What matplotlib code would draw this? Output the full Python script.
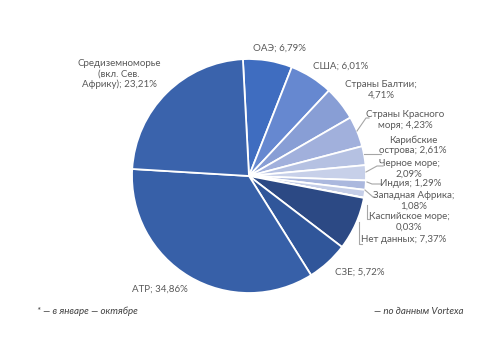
import matplotlib
matplotlib.use("Agg")
import matplotlib.pyplot as plt

categories = ["ОАЭ", "США", "Страны Балтии", "Страны Красного моря", "Карибские острова",
              "Черное море", "Индия", "Западная Африка", "Каспийское море", "Нет данных",
              "СЗЕ", "АТР", "Средиземноморье (вкл. Сев. Африку)"]
values = [6.79, 6.01, 4.71, 4.23, 2.61, 2.09, 1.29, 1.08, 0.03, 7.37, 5.72, 34.86, 23.21]
label_texts = ["ОАЭ; 6,79%", "США; 6,01%", "Страны Балтии;\n4,71%", "Страны Красного\nморя; 4,23%",
               "Карибские\nострова; 2,61%", "Черное море;\n2,09%", "Индия; 1,29%",
               "Западная Африка;\n1,08%", "Каспийское море;\n0,03%", "Нет данных; 7,37%",
               "СЗЕ; 5,72%", "АТР; 34,86%", "Средиземноморье\n(вкл. Сев.\nАфрику); 23,21%"]
colors = ["#3F6DC0", "#6688D0", "#889ED5", "#A1B0DC", "#B5C1E2", "#C7D0E9", "#ABB8DE",
          "#C5CEE8", "#9FB0DC", "#2C4984", "#30569A", "#3760A8", "#3A63AC"]

W, H = 500, 353
CX, CY, R = 249, 176, 117

fig = plt.figure(figsize=(W / 100, H / 100), dpi=100)
ax = fig.add_axes([0, 0, 1, 1])

ax.pie(values, colors=colors, startangle=93, counterclock=False, radius=1.0, center=(0, 0),
       wedgeprops=dict(edgecolor="white", linewidth=1.3), frame=False)
ax.set_xlim(-CX / R, (W - CX) / R)
ax.set_ylim(-(H - CY) / R, CY / R)
ax.set_aspect("equal")
ax.axis("off")


def P(px, py):
    return (px - CX) / R, (CY - py) / R


label_pos = [(279, 48), (341, 66), (381, 90), (405, 120), (413, 145), (409, 169), (411, 184),
             (414, 201), (409, 222), (404, 240), (360, 272), (160, 289), (119, 74)]

font = ["Lato", "DejaVu Sans"]
for t, (px, py) in zip(label_texts, label_pos):
    x, y = P(px, py)
    ax.text(x, y, t, ha="center", va="center", fontsize=7, color="#595959",
            family=font, linespacing=1.15)

leaders = [
    [(357, 131), (366, 118), (369, 118)],
    [(364, 154), (381, 154)],
    [(366, 172), (377, 166), (383, 166)],
    [(367, 182), (372, 184), (381, 184)],
    [(365, 190), (373, 197), (375, 197)],
    [(367, 205), (367, 219), (370, 219)],
    [(359, 222), (359, 244), (362, 244)],
]
for pts in leaders:
    xs, ys = zip(*[P(a, b) for a, b in pts])
    ax.plot(xs, ys, color="#A6A6A6", linewidth=0.8)

fx, fy = P(37, 311)
ax.text(fx, fy, "* — в январе — октябре", ha="left", va="center", fontsize=7,
        style="italic", color="#404040", family=font)
gx, gy = P(463, 311)
ax.text(gx, gy, "— по данным Vortexa", ha="right", va="center", fontsize=7,
        style="italic", color="#404040", family=font)

fig.savefig("out.png", dpi=100, facecolor="white")
